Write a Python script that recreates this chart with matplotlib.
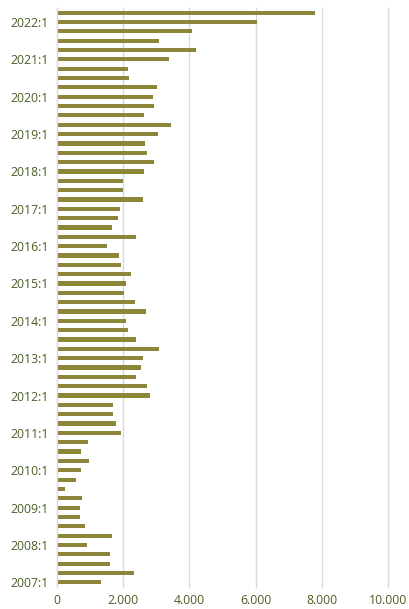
import matplotlib
matplotlib.use('Agg')
import matplotlib.pyplot as plt
from matplotlib.ticker import FuncFormatter

# quarters 2007:1 .. 2022:2
quarters = [f"{y}:{q}" for y in range(2007, 2023) for q in range(1, 5)][:62]

values = [
    1330, 2320, 1600, 1610,   # 2007
    910, 1660, 840, 700,      # 2008
    680, 750, 230, 570,       # 2009
    710, 980, 740, 940,       # 2010
    1940, 1780, 1690, 1690,   # 2011
    2800, 2710, 2400, 2530,   # 2012
    2610, 3080, 2390, 2130,   # 2013
    2070, 2680, 2370, 2030,   # 2014
    2070, 2250, 1920, 1860,   # 2015
    1520, 2390, 1670, 1830,   # 2016
    1890, 2610, 1980, 2000,   # 2017
    2640, 2930, 2730, 2670,   # 2018
    3040, 3450, 2640, 2930,   # 2019
    2890, 3030, 2170, 2150,   # 2020
    3380, 4210, 3090, 4080,   # 2021
    6040, 7780,               # 2022
]

x_ticks = [0, 2000, 4000, 6000, 8000, 10000]

bar_color = '#8c8638'
text_color = '#4a5e26'

plt.rcParams['font.family'] = ['Open Sans', 'DejaVu Sans']

fig = plt.figure(figsize=(4.09, 6.09), dpi=100)
ax = fig.add_axes([57 / 409, 1 - 587 / 609, 331 / 409, 579 / 609])

pos = list(range(len(quarters)))
ax.barh(pos, values, height=0.45, color=bar_color, zorder=3)

ax.set_ylim(-0.5, len(quarters) - 0.5)
ax.set_xlim(0, 10000)
ax.set_xticks(x_ticks)
ax.xaxis.set_major_formatter(FuncFormatter(lambda v, p: f"{int(v):,}".replace(',', '.')))

ytick_pos = [i for i, q in enumerate(quarters) if q.endswith(':1')]
ax.set_yticks(ytick_pos)
ax.set_yticklabels([quarters[i] for i in ytick_pos])

ax.tick_params(axis='both', length=0, labelsize=8.8, labelcolor=text_color)
ax.tick_params(axis='x', pad=5)
ax.tick_params(axis='y', pad=6)

ax.grid(axis='x', color='#d9d9d9', linewidth=1, zorder=0)
for gl in ax.get_xgridlines():
    gl.set_clip_on(False)
for s in ['top', 'right', 'bottom']:
    ax.spines[s].set_visible(False)
ax.spines['left'].set_color('#d9d9d9')
ax.spines['left'].set_zorder(4)

fig.savefig('out.png', dpi=100)
